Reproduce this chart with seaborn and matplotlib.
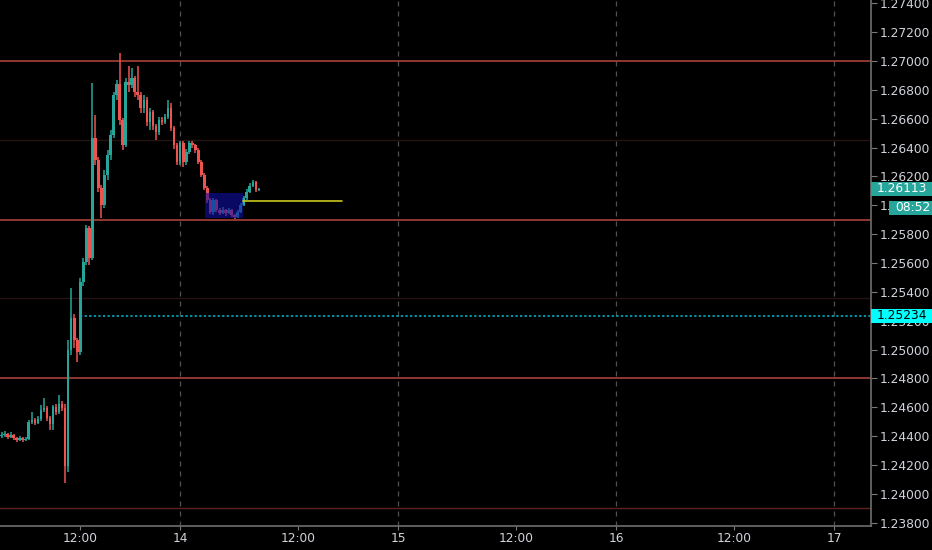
"""GBP/USD style 20-minute candlestick chart, dark theme"""
import numpy as np
import pandas as pd
import matplotlib
matplotlib.use("Agg")
import matplotlib.pyplot as plt
import matplotlib.transforms as mtransforms
from matplotlib.patches import Rectangle
import seaborn as sns

# bars are 20 minutes apart; x is in hours from the start of the 14th
first_bar_hour = -19.65
bar_step = 1 / 3
first_open = 1.24401

closes = [1.24408, 1.24414, 1.24394, 1.24408, 1.24387, 1.24373, 1.24387, 1.24373, 1.24380, 1.24498,
          1.24511, 1.24491, 1.24518, 1.24581, 1.24595, 1.24525, 1.24484, 1.24602, 1.24567, 1.24622,
          1.24595, 1.24190, 1.24997, 1.25218, 1.25066, 1.24983, 1.25468, 1.25607, 1.25842, 1.25634,
          1.26466, 1.26314, 1.26120, 1.26002, 1.26210, 1.26348, 1.26487, 1.26764, 1.26841, 1.26591,
          1.26418, 1.26855, 1.26834, 1.26882, 1.26785, 1.26764, 1.26674, 1.26730, 1.26577, 1.26647,
          1.26549, 1.26508, 1.26591, 1.26577, 1.26612, 1.26674, 1.26536, 1.26418, 1.26300, 1.26432,
          1.26300, 1.26369, 1.26432, 1.26418, 1.26383, 1.26300, 1.26210, 1.26120, 1.26037, 1.25953,
          1.26037, 1.25967, 1.25946, 1.25967, 1.25946, 1.25967, 1.25933, 1.25919, 1.25953, 1.26002,
          1.26050, 1.26092, 1.26134, 1.26161, 1.26106, 1.26113]
highs = [1.24428, 1.24435, 1.24421, 1.24428, 1.24414, 1.24394, 1.24401, 1.24394, 1.24394, 1.24511,
         1.24567, 1.24525, 1.24539, 1.24615, 1.24664, 1.24609, 1.24539, 1.24615, 1.24622, 1.24685,
         1.24643, 1.24622, 1.25066, 1.25426, 1.25246, 1.25080, 1.25495, 1.25634, 1.25863, 1.25856,
         1.26848, 1.26626, 1.26335, 1.26140, 1.26245, 1.26383, 1.26522, 1.26785, 1.26868, 1.27055,
         1.26605, 1.26882, 1.26965, 1.26951, 1.26896, 1.26965, 1.26785, 1.26764, 1.26750, 1.26674,
         1.26660, 1.26563, 1.26612, 1.26612, 1.26633, 1.26730, 1.26709, 1.26550, 1.26432, 1.26446,
         1.26446, 1.26390, 1.26446, 1.26446, 1.26425, 1.26397, 1.26314, 1.26224, 1.26134, 1.26050,
         1.26050, 1.26044, 1.25981, 1.25988, 1.25974, 1.25981, 1.25974, 1.25939, 1.25967, 1.26016,
         1.26064, 1.26113, 1.26154, 1.26175, 1.26168, 1.26120]
lows = [1.24387, 1.24394, 1.24380, 1.24387, 1.24373, 1.24359, 1.24366, 1.24359, 1.24366, 1.24373,
        1.24484, 1.24477, 1.24484, 1.24504, 1.24567, 1.24504, 1.24442, 1.24442, 1.24546, 1.24553,
        1.24574, 1.24075, 1.24151, 1.24962, 1.25010, 1.24914, 1.24962, 1.25440, 1.25586, 1.25586,
        1.25621, 1.26280, 1.26092, 1.25912, 1.25981, 1.26175, 1.26314, 1.26466, 1.26730, 1.26556,
        1.26383, 1.26404, 1.26785, 1.26813, 1.26750, 1.26730, 1.26640, 1.26640, 1.26549, 1.26522,
        1.26522, 1.26452, 1.26487, 1.26556, 1.26563, 1.26598, 1.26515, 1.26390, 1.26280, 1.26280,
        1.26265, 1.26280, 1.26355, 1.26397, 1.26362, 1.26286, 1.26196, 1.26106, 1.26016, 1.25939,
        1.25933, 1.25953, 1.25933, 1.25939, 1.25926, 1.25939, 1.25919, 1.25905, 1.25912, 1.25946,
        1.25995, 1.26037, 1.26085, 1.26127, 1.26092, 1.26099]

# drawn levels and objects
red_levels = [1.27000, 1.25900, 1.24800]
dim_levels = [1.23900]
faint_levels = [1.26450, 1.25360]
cyan_level = 1.25234
cyan_start = -11.0
yellow_level = 1.26030
yellow_span = [6.94, 17.84]
box_hours = [2.75, 6.94]
box_prices = [1.25912, 1.26085]
last_price = 1.26113
countdown = "08:52"

day_ticks = [0, 24, 48, 72]
day_labels = ["14", "15", "16", "17"]
noon_ticks = [-11, 13, 37, 61]
price_ticks = [1.238, 1.240, 1.242, 1.244, 1.246, 1.248, 1.250, 1.252, 1.254, 1.256,
               1.258, 1.260, 1.262, 1.264, 1.266, 1.268, 1.270, 1.272, 1.274]

UP = "#26a69a"
DOWN = "#ef5350"
TXT = "#d1d4dc"

df = pd.DataFrame({"close": closes, "high": highs, "low": lows})
df["open"] = [first_open] + closes[:-1]
df["t"] = first_bar_hour + bar_step * np.arange(len(df))
df["up"] = df["close"] >= df["open"]
df["color"] = np.where(df["up"], UP, DOWN)

sns.set_theme(style="dark", rc={
    "axes.facecolor": "black",
    "figure.facecolor": "black",
    "axes.edgecolor": "#505050",
    "text.color": TXT,
    "xtick.color": TXT,
    "ytick.color": TXT,
})
plt.rcParams["font.family"] = ["DejaVu Sans"]

fig = plt.figure(figsize=(9.32, 5.5), dpi=100)
ax = fig.add_axes([0, 24 / 550, 871 / 932, 526 / 550])
ax.set_xlim(-19.82, 76.08)
ax.set_ylim(1.23777, 1.274229)

# day separators
for d in day_ticks:
    ax.axvline(d, color="#505050", lw=0.9, ls=(0, (4, 4)), zorder=1)

# horizontal levels
for lv in faint_levels:
    ax.axhline(lv, color="#261313", lw=1.0, zorder=1)
for lv in dim_levels:
    ax.axhline(lv, color="#5e2020", lw=1.0, zorder=1)
for lv in red_levels:
    ax.axhline(lv, color="#b8473f", lw=1.1, zorder=2)
ax.hlines(cyan_level, cyan_start, 76.08, color="#00bcd4", lw=1.1, ls=(0, (1.5, 1.5)), zorder=2)

# candles
ax.vlines(df["t"], df["low"], df["high"], colors=df["color"], lw=1.1, zorder=3)
body = (df["close"] - df["open"]).abs().clip(lower=0.00004)
ax.bar(df["t"], body, bottom=df[["open", "close"]].min(axis=1), width=0.29,
       color=df["color"], linewidth=0, zorder=4)

# rectangle over the base
ax.add_patch(Rectangle((box_hours[0], box_prices[0]), box_hours[1] - box_hours[0],
                       box_prices[1] - box_prices[0], facecolor="#1010a8", alpha=0.6,
                       edgecolor="none", zorder=5))

# yellow projection line
sns.lineplot(x=yellow_span, y=[yellow_level, yellow_level], color="#c8c81e", lw=1.2, ax=ax, zorder=5)

# axes, ticks
ax.yaxis.tick_right()
ax.set_yticks(price_ticks)
ax.set_yticklabels([f"{p:.5f}" for p in price_ticks], fontsize=8.8)
xt = noon_ticks + day_ticks
xl = ["12:00"] * len(noon_ticks) + day_labels
ax.set_xticks(xt)
ax.set_xticklabels(xl, fontsize=8.8)
ax.tick_params(axis="y", length=4, width=0.8, color="#7a7a7a", pad=2, right=True, left=False)
ax.tick_params(axis="x", length=3, width=0.8, color="#7a7a7a", pad=1.5, bottom=True)
ax.grid(False)
for s in ["top", "left"]:
    ax.spines[s].set_visible(False)
ax.spines["right"].set_color("#6a6a6a")
ax.spines["bottom"].set_color("#6a6a6a")
ax.set_xlabel("")
ax.set_ylabel("")
if ax.get_legend():
    ax.get_legend().remove()

# price tags on the right scale
tr = mtransforms.blended_transform_factory(ax.transAxes, ax.transData)
half = 7 * 0.00006932
right_edge = 932 / 871


def price_tag(y, text, face, fg, x0=1.0):
    ax.add_patch(Rectangle((x0, y - half), right_edge - x0, 2 * half, transform=tr,
                           facecolor=face, edgecolor="none", clip_on=False, zorder=10))
    ax.text(x0 + 6 / 871, y, text, transform=tr, color=fg, fontsize=8.8,
            va="center", ha="left", clip_on=False, zorder=11)


price_tag(last_price, f"{last_price:.5f}", UP, "white")
price_tag(last_price - 19 * 0.00006932, countdown, UP, "white", x0=889 / 871)
price_tag(cyan_level, f"{cyan_level:.5f}", "#00ffff", "black")

fig.savefig("out.png", dpi=100, facecolor="black")
